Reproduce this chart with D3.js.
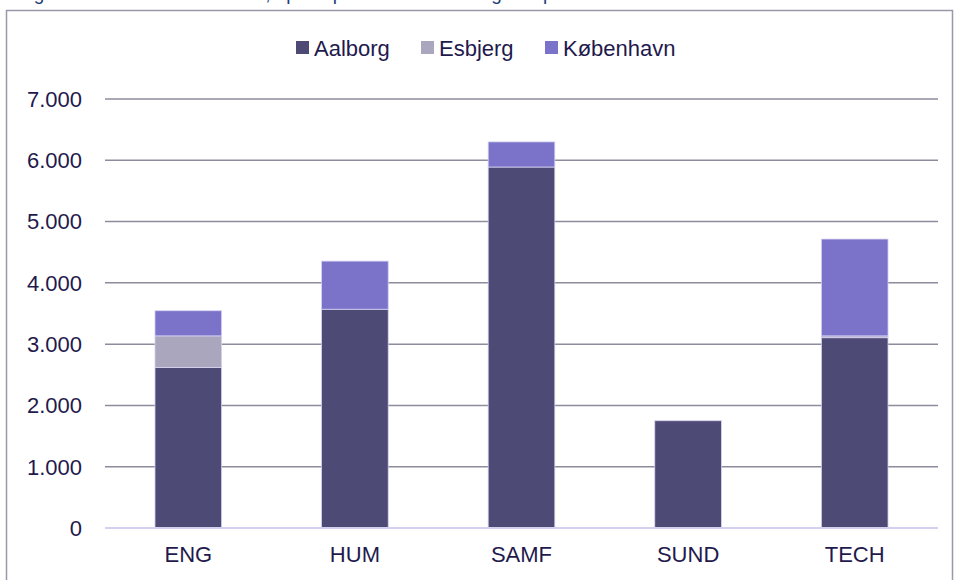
<!DOCTYPE html>
<html>
<head>
<meta charset="utf-8">
<script src="https://cdn.jsdelivr.net/npm/d3@7.9.0/dist/d3.min.js"></script>
<style>
  body { margin: 0; background: #fff; }
  svg { display: block; font-family: "Liberation Sans", Arial, sans-serif; }
</style>
</head>
<body>
<div id="chart"></div>
<script>
// values
const faculties = ["ENG", "HUM", "SAMF", "SUND", "TECH"];
const campuses = ["Aalborg", "Esbjerg", "København"];
const aalborg = [2620, 3570, 5890, 1750, 3105];
const esbjerg = [515, 0, 0, 0, 30];
const koebenhavn = [410, 785, 410, 0, 1580];
const yTicks = [0, 1000, 2000, 3000, 4000, 5000, 6000, 7000];
const colors = ["#4e4a76", "#a9a6bd", "#7b73c9"];

const width = 955, height = 580;
const margin = { top: 99, right: 17, bottom: 52, left: 105 };

const svg = d3.select("#chart").append("svg")
    .attr("width", width)
    .attr("height", height);

// caption above the frame, mostly cut off by the page edge
svg.append("text")
    .attr("x", 18)
    .attr("y", 0)
    .attr("fill", "#1f3d7a")
    .attr("font-size", 19)
    .text("Figur 3: Studerende ved AAU, opdelt på hovedområde og campus i efteråret 2019");

// frame
svg.append("rect")
    .attr("x", 6.5).attr("y", 10.5)
    .attr("width", 946).attr("height", 600)
    .attr("fill", "none")
    .attr("stroke", "#9a98a6")
    .attr("stroke-width", 1.5);

const rows = faculties.map((f, i) => ({
    faculty: f,
    "Aalborg": aalborg[i],
    "Esbjerg": esbjerg[i],
    "København": koebenhavn[i]
}));
const stacked = d3.stack().keys(campuses)(rows);

const x = d3.scaleBand()
    .domain(faculties)
    .range([margin.left, width - margin.right])
    .paddingInner(0.6)
    .paddingOuter(0.3);

const y = d3.scaleLinear()
    .domain([0, 7000])
    .range([height - margin.bottom, margin.top]);

const fmt = v => d3.format(",")(v).replace(/,/g, ".");

// gridlines
svg.append("g")
    .selectAll("line")
    .data(yTicks.filter(t => t > 0))
    .join("line")
    .attr("x1", margin.left)
    .attr("x2", width - margin.right)
    .attr("y1", d => y(d))
    .attr("y2", d => y(d))
    .attr("stroke", "#8e8b9c")
    .attr("stroke-width", 1.5);

// y labels
svg.append("g")
    .selectAll("text")
    .data(yTicks)
    .join("text")
    .attr("x", 82)
    .attr("y", d => y(d))
    .attr("dy", "0.36em")
    .attr("text-anchor", "end")
    .attr("fill", "#1f1a4d")
    .attr("font-size", 22)
    .text(fmt);

// bars
svg.append("g")
    .selectAll("g")
    .data(stacked)
    .join("g")
    .attr("fill", (d, i) => colors[i])
    .selectAll("rect")
    .data(d => d.filter(s => s[1] - s[0] > 0))
    .join("rect")
    .attr("x", d => x(d.data.faculty))
    .attr("width", x.bandwidth())
    .attr("y", d => y(d[1]))
    .attr("height", d => y(d[0]) - y(d[1]))
    .attr("stroke", "#d6d2f2")
    .attr("stroke-width", 0.8);

// baseline
svg.append("line")
    .attr("x1", margin.left)
    .attr("x2", width - margin.right)
    .attr("y1", y(0))
    .attr("y2", y(0))
    .attr("stroke", "#d4d0f0")
    .attr("stroke-width", 2);

// x labels
svg.append("g")
    .attr("transform", `translate(0,${y(0)})`)
    .call(d3.axisBottom(x).tickSize(0).tickPadding(18))
    .call(g => g.select(".domain").remove())
    .selectAll("text")
    .attr("fill", "#1f1a4d")
    .attr("font-size", 22)
    .attr("font-family", "Liberation Sans, Arial, sans-serif");

// legend
const legendItems = [
    { name: "Aalborg", x: 296 },
    { name: "Esbjerg", x: 421 },
    { name: "København", x: 545 }
];
const legend = svg.append("g")
    .selectAll("g")
    .data(legendItems)
    .join("g")
    .attr("transform", d => `translate(${d.x},41)`);
legend.append("rect")
    .attr("width", 13).attr("height", 13)
    .attr("fill", (d, i) => colors[i]);
legend.append("text")
    .attr("x", 18)
    .attr("y", 7)
    .attr("dy", "0.36em")
    .attr("fill", "#1f1a4d")
    .attr("font-size", 22)
    .text(d => d.name);
</script>
</body>
</html>
